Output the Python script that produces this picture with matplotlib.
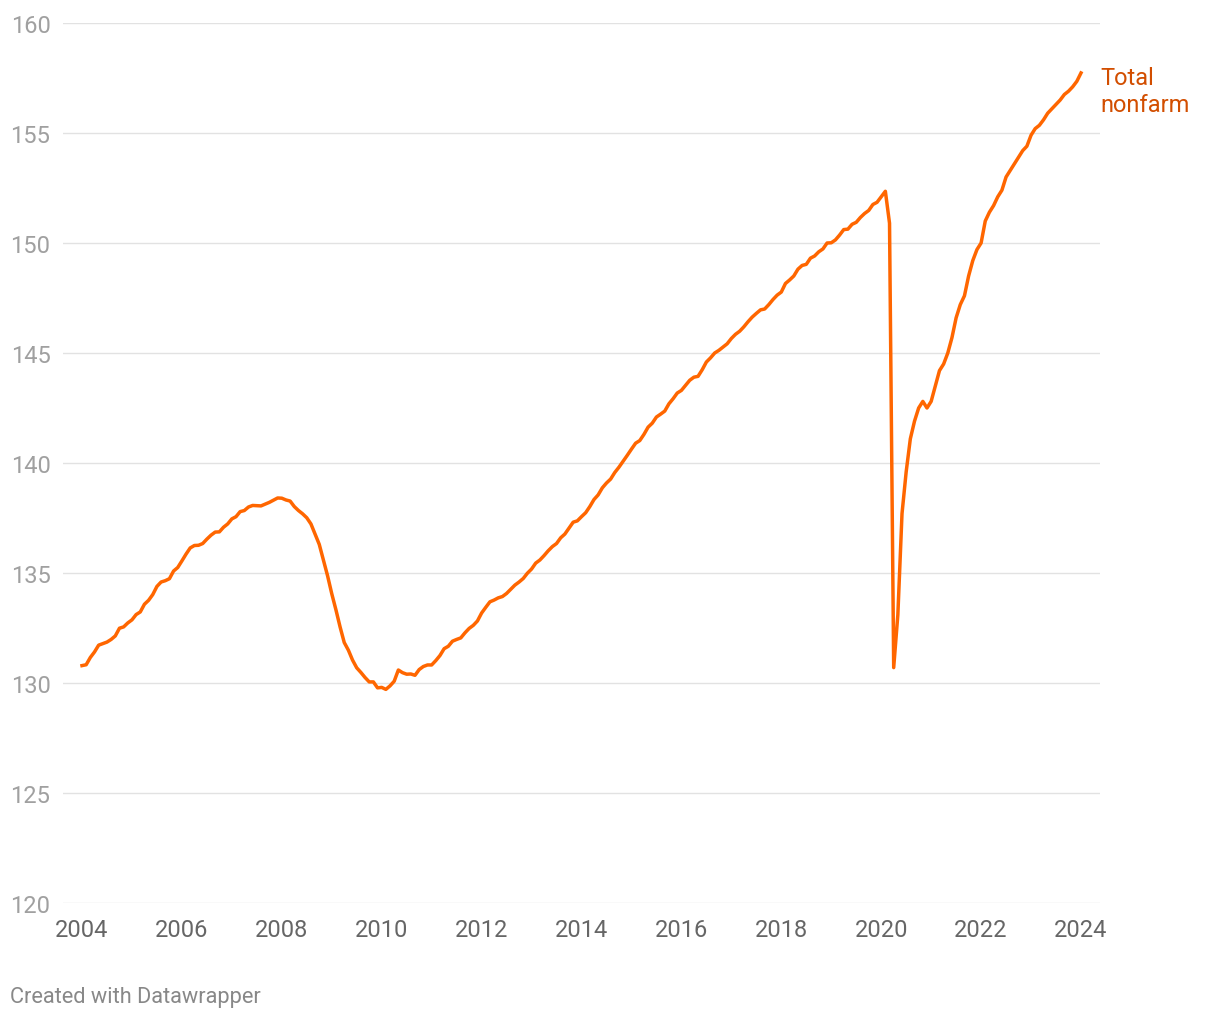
import matplotlib.pyplot as plt
import numpy as np

# Total nonfarm employment, millions, monthly Jan 2004 - Jan 2024
start_year = 2004
nonfarm = [
    # 2004
    130.79, 130.83, 131.16, 131.41, 131.72, 131.79, 131.86, 131.98, 132.14, 132.49, 132.55, 132.73,
    # 2005
    132.87, 133.11, 133.23, 133.58, 133.76, 134.02, 134.39, 134.59, 134.65, 134.74, 135.09, 135.25,
    # 2006
    135.55, 135.86, 136.14, 136.25, 136.26, 136.34, 136.54, 136.72, 136.86, 136.87, 137.08, 137.23,
    # 2007
    137.46, 137.56, 137.79, 137.84, 138.00, 138.07, 138.06, 138.05, 138.13, 138.21, 138.31, 138.41,
    # 2008
    138.40, 138.32, 138.27, 138.02, 137.84, 137.69, 137.51, 137.23, 136.77, 136.30, 135.58, 134.87,
    # 2009
    134.06, 133.33, 132.55, 131.84, 131.49, 131.04, 130.69, 130.48, 130.25, 130.05, 130.05, 129.78,
    # 2010
    129.80, 129.71, 129.87, 130.08, 130.59, 130.47, 130.40, 130.41, 130.35, 130.61, 130.75, 130.82,
    # 2011
    130.82, 131.02, 131.25, 131.56, 131.67, 131.90, 131.98, 132.05, 132.28, 132.48, 132.62, 132.82,
    # 2012
    133.18, 133.44, 133.69, 133.77, 133.87, 133.93, 134.07, 134.26, 134.45, 134.59, 134.75, 134.99,
    # 2013
    135.18, 135.45, 135.59, 135.79, 136.01, 136.20, 136.34, 136.60, 136.77, 137.04, 137.31, 137.37,
    # 2014
    137.56, 137.74, 138.02, 138.34, 138.55, 138.87, 139.09, 139.27, 139.57, 139.81, 140.08, 140.35,
    # 2015
    140.63, 140.90, 141.02, 141.30, 141.63, 141.81, 142.09, 142.22, 142.36, 142.69, 142.92, 143.18,
    # 2016
    143.30, 143.53, 143.76, 143.90, 143.94, 144.24, 144.59, 144.78, 145.00, 145.12, 145.27, 145.42,
    # 2017
    145.66, 145.85, 145.99, 146.19, 146.42, 146.63, 146.80, 146.96, 147.00, 147.20, 147.43, 147.63,
    # 2018
    147.77, 148.16, 148.32, 148.50, 148.81, 148.98, 149.03, 149.31, 149.41, 149.60, 149.73, 150.00,
    # 2019
    150.01, 150.14, 150.36, 150.61, 150.63, 150.85, 150.94, 151.16, 151.34, 151.48, 151.75, 151.85,
    # 2020
    152.10, 152.35, 150.90, 130.70, 133.10, 137.70, 139.60, 141.10, 141.90, 142.50, 142.80, 142.50,
    # 2021
    142.80, 143.50, 144.20, 144.50, 145.00, 145.70, 146.60, 147.20, 147.60, 148.50, 149.20, 149.70,
    # 2022
    150.00, 151.00, 151.40, 151.70, 152.10, 152.40, 153.00, 153.30, 153.60, 153.90, 154.20, 154.40,
    # 2023
    154.90, 155.20, 155.35, 155.60, 155.90, 156.10, 156.30, 156.50, 156.75, 156.90, 157.10, 157.35,
    # 2024
    157.73,
]
series_label = "Total nonfarm"
x_ticks = [2004, 2006, 2008, 2010, 2012, 2014, 2016, 2018, 2020, 2022, 2024]
y_ticks = [120, 125, 130, 135, 140, 145, 150, 155, 160]

t = start_year + np.arange(len(nonfarm)) / 12.0

plt.rcParams['font.family'] = ['Roboto', 'DejaVu Sans']

W, H = 1220, 1020
fig = plt.figure(figsize=(W / 100, H / 100), dpi=100)
ax = fig.add_axes([63 / W, 1 - 904 / H, (1100 - 63) / W, 880 / H])

px_per_year = (1081 - 82) / 20
ax.set_xlim(2004 - 19 / px_per_year, 2024 + 19 / px_per_year)
ax.set_ylim(120, 160)

for y in y_ticks:
    ax.axhline(y, color='#e2e2e2', lw=1.0, zorder=1)

ax.plot(t, nonfarm, color='#ff6600', lw=2.5, solid_joinstyle='round', zorder=3)

for s in ax.spines.values():
    s.set_visible(False)

ax.set_xticks(x_ticks)
ax.set_xticklabels([str(v) for v in x_ticks])
ax.set_yticks(y_ticks)
ax.set_yticklabels([str(v) for v in y_ticks])
ax.tick_params(axis='y', length=0, pad=9, labelsize=17, labelcolor='#a0a0a0')
ax.tick_params(axis='x', length=0, pad=11, labelsize=17, labelcolor='#666666')

ax.annotate(series_label.replace(' ', '\n'), xy=(t[-1], nonfarm[-1]),
            xytext=(14, -13), textcoords='offset points', ha='left', va='center',
            fontsize=17, color='#d24e00', linespacing=1.22)

fig.text(10 / W, 1 - 1003 / H, "Created with Datawrapper", fontsize=15.7,
         color='#888888', ha='left', va='baseline')

fig.savefig('out.png', dpi=100)
